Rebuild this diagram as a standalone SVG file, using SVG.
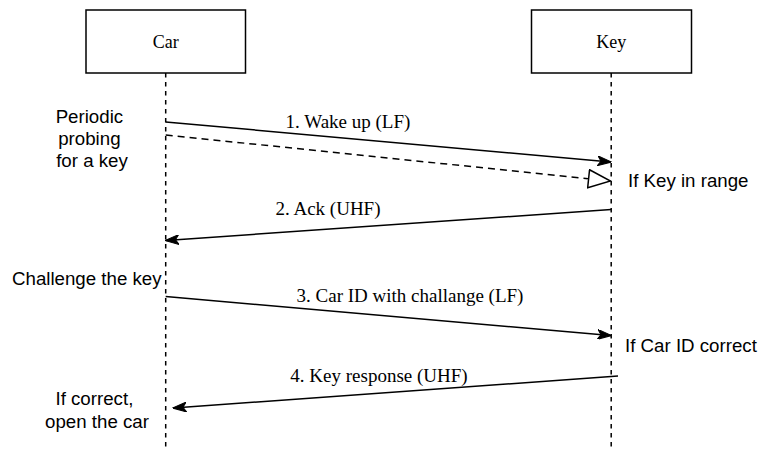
<svg xmlns="http://www.w3.org/2000/svg" width="760" height="451" viewBox="0 0 760 451">
  <style>
    .box { fill: #ffffff; stroke: #000000; stroke-width: 1.5; }
    .life { stroke: #000000; stroke-width: 1.5; stroke-dasharray: 4.5 4.5; fill: none; }
    .msg { stroke: #000000; stroke-width: 1.5; fill: none; }
    .dash { stroke-dasharray: 7 5; }
    .serif { font-family: "Liberation Serif", "Times New Roman", serif; font-size: 18px; fill: #000000; }
    .label { font-size: 19px; }
    .sans { font-family: "Liberation Sans", Arial, Helvetica, sans-serif; font-size: 18.7px; fill: #000000; }
  </style>
  <defs>
    <marker id="arrow" viewBox="0 0 14 10" refX="13" refY="5" markerWidth="14" markerHeight="10" markerUnits="userSpaceOnUse" orient="auto">
      <path d="M0,0 L14,5 L0,10 L3.5,5 Z" fill="#000000" stroke="#000000" stroke-width="1"/>
    </marker>
    <marker id="openTri" viewBox="0 0 24 20" refX="23" refY="10" markerWidth="24" markerHeight="20" markerUnits="userSpaceOnUse" orient="auto">
      <path d="M1,1 L23,10 L1,19 Z" fill="#ffffff" stroke="#000000" stroke-width="1.5"/>
    </marker>
  </defs>

  <!-- participant: Car -->
  <g id="car">
    <rect class="box" x="86" y="10" width="159.5" height="63"/>
    <text class="serif" x="165.7" y="47.5" text-anchor="middle">Car</text>
    <line class="life" x1="165.7" y1="73" x2="165.7" y2="451"/>
  </g>

  <!-- participant: Key -->
  <g id="key">
    <rect class="box" x="531.5" y="10" width="160" height="63"/>
    <text class="serif" x="611.2" y="47.5" text-anchor="middle">Key</text>
    <line class="life" x1="611.2" y1="73" x2="611.2" y2="451"/>
  </g>

  <!-- messages between the participants -->
  <g id="connectors">
    <line class="msg" x1="165.7" y1="122" x2="610.5" y2="162" marker-end="url(#arrow)"/>
    <line class="msg dash" x1="165.7" y1="135" x2="610.5" y2="181" marker-end="url(#openTri)"/>
    <line class="msg" x1="611.2" y1="209.5" x2="166" y2="240.5" marker-end="url(#arrow)"/>
    <line class="msg" x1="165.7" y1="296.5" x2="610.5" y2="335.5" marker-end="url(#arrow)"/>
    <line class="msg" x1="618" y1="376" x2="173.5" y2="408" marker-end="url(#arrow)"/>
  </g>

  <!-- message labels -->
  <g id="labels">
    <text class="serif label" x="348" y="128" text-anchor="middle">1. Wake up (LF)</text>
    <text class="serif label" x="328" y="215" text-anchor="middle">2. Ack (UHF)</text>
    <text class="serif label" x="410" y="302" text-anchor="middle">3. Car ID with challange (LF)</text>
    <text class="serif label" x="379" y="382" text-anchor="middle">4. Key response (UHF)</text>
  </g>

  <!-- side notes -->
  <g id="notes">
    <text class="sans" text-anchor="middle">
      <tspan x="92" y="123">Periodic</tspan>
      <tspan x="92" y="145">probing</tspan>
      <tspan x="92" y="167">for a key</tspan>
    </text>
    <text class="sans" x="628" y="187">If Key in range</text>
    <text class="sans" x="12" y="285">Challenge the key</text>
    <text class="sans" x="625" y="352">If Car ID correct</text>
    <text class="sans" text-anchor="middle">
      <tspan x="97" y="405">If correct,</tspan>
      <tspan x="97" y="428">open the car</tspan>
    </text>
  </g>
</svg>
